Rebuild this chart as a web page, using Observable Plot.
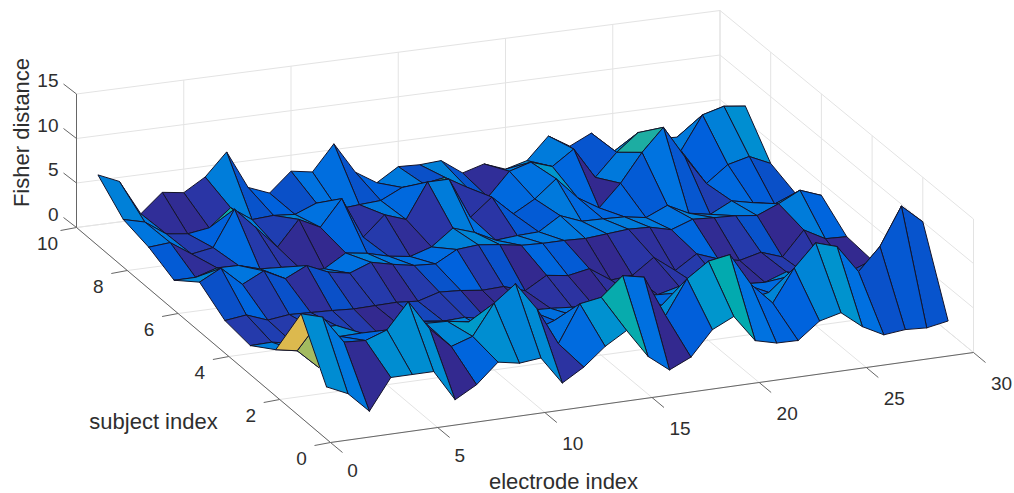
<!DOCTYPE html>
<html>
<head>
<meta charset="utf-8">
<script src="https://cdn.jsdelivr.net/npm/d3@7"></script>
<script src="https://cdn.jsdelivr.net/npm/@observablehq/plot@0.6"></script>
<style>html,body{margin:0;padding:0;background:#fff}svg{display:block}</style>
</head>
<body>
<div id="chart"></div>
<script>
const electrodeTicks = [0, 5, 10, 15, 20, 25, 30];
const subjectTicks = [0, 2, 4, 6, 8, 10];
const fisherTicks = [0, 5, 10, 15];
// surface heights, one row per subject
const s1 = [3.5,2.4,.1,3.55,3.55,3.55,.05,1.4,3.6,3.15,3.4,.25,1.7,3.7,5.15,1.9,.05,1.15,3.9,5.05,2,1.4,1.35,3.2,3.8,1.9,.65,.9,.76,1.2];
const s2 = [9.3,8.6,5.45,5.3,6.15,9,5.6,3.3,4.1,7.5,9.35,6.2,1.95,6.1,6.5,8.6,8.1,3.45,7.25,8.9,9.3,5.6,3.2,6.8,9.3,8.55,5.4,7.9,12.1,10];
const s3 = [2.85,2.4,.2,3.35,3.4,2.5,2.5,3.5,3.4,3,1.5,1,1,1.85,2,2,1,1.5,1.9,3,1.5,1.5,1.2,1.7,3.2,2,1.5,.1,.5,1];
const s4 = [.9,.95,.5,1.8,1.85,.6,.2,.8,1,.7,.8,.3,.4,.6,.5,.3,.2,.3,.5,.4,1,.6,.6,.3,.15,1,.3,.05,.1,1];
const s5 = [1.3,1.6,.7,1,.9,.8,.65,.7,.75,.55,1.25,1.1,.8,.9,.1,1.5,1.15,1.6,0,.2,1.9,.1,1.65,.75,.25,.85,0,2.7,1.4,1.3];
const s6 = [3.2,4.45,2.3,3.5,2.3,3.45,2.4,1.95,2.85,2.3,1.85,1.7,3,3.2,2.9,2.5,2.4,2.4,2.3,2.5,2.7,2.6,2,2.85,2.7,2.6,2.3,3.3,4.5,3.6];
const s7 = [1,1,1.75,1.7,1,.85,.1,.05,1.5,1.15,.5,.15,.9,2.7,1.9,.7,.9,1,2.5,1.55,1.5,1.4,1,2.05,.85,.4,1.6,1.07,.6,1.4];
const s8 = [2.3,2.5,.9,1.3,5.3,2.9,.4,3.2,2,4.9,.25,2.45,1.6,5.5,5.5,.9,2.85,.65,2,3.95,1.5,.05,2.5,5.65,8.15,4.5,1.2,3,3.6,2.5];
const s9 = [3,2.4,.75,.45,.8,2.75,1.1,1.25,1.05,2,1,1.2,1.35,2.5,2.6,3,1.6,.15,2.75,3.45,2.65,4.3,.8,3.3,5.2,1.5,2.55,6.25,6.9,6.6];
const s10 = [5.6,4.55,.6,2.7,2.35,3.8,6.3,2,1.05,3.2,2.8,5.65,2.15,.65,2.15,2.05,2.2,.5,1.2,.3,.95,3.4,1.95,3.1,.65,.5,1.5,1.4,3,3];
const rows = [s1,s2,s3,s4,s5,s6,s7,s8,s9,s10];
// cell colour values where the picture's shade differs from the corner height
const shade4 = [.35,.4,.35,.5,.4,.35,.05,.15,.5,.35,.4,.05,.1,.1,.25,.25,.05,.2,.2,.15,.3,.35,.4,.1,.15,.35,.3,.05,.05];
const shade5 = [.6,1.4,.4,.65,.2,.6,.35,.35,.15,.35,.7,1.3,.35,.65,.05,1.5,1,.1,.05,.3,.2,.2,1.5,.1,.35,.7,.05,2.7,1.4];
const shadeExtra = [[3,2,1.6],[4,2,1.6],[7,2,.1],[8,3,1.8],[9,3,1.8],[5,3,1.6],[19,3,1.6],
  [2,7,.15],[3,7,.35],[5,7,.35],[6,7,.3],[10,7,.7],[11,7,.35],[13,7,.3],[16,7,.3],
  [3,8,.35],[14,8,3.5],[16,8,.3],[17,8,.2],[18,8,1.6],
  [3,9,.15],[4,9,.1],[5,9,.3],[7,9,.7],[9,9,.6],[11,9,1.8],[12,9,.7],[15,9,.6],[17,9,.7]];
const colorDomain = [0,.3,.6,1.2,2,3,4,5,8.6,9.3];
const colorRange = ["#35278a","#2a35a5","#0a50c8","#0060dc","#0072e0","#0080d8","#0098cc","#00aab0","#a3bb60","#dcb94e"];

// view of the 3D box (screen plane)
const front=[330,442], right=[973,352], back=[719.5,143.5], left=[76,227], zUnit=8.9;
function project(e,s,z){
  const u=e/30,v=s/10;
  const bil=i=>front[i]+(right[i]-front[i])*u+(left[i]-front[i])*v+(front[i]-right[i]+back[i]-left[i])*u*v;
  return [bil(0),bil(1)-z*zUnit];
}
const seg=(a,b)=>{const p=project(...a),q=project(...b);return {x1:p[0],y1:p[1],x2:q[0],y2:q[1]};};
const grid=[];
for(const e of electrodeTicks){grid.push(seg([e,0,0],[e,10,0]),seg([e,10,0],[e,10,15]));}
for(const s of subjectTicks){grid.push(seg([0,s,0],[30,s,0]),seg([30,s,0],[30,s,15]));}
for(const z of fisherTicks){grid.push(seg([0,10,z],[30,10,z]),seg([30,10,z],[30,0,z]));}
const axes=[seg([0,10,0],[0,10,15]),seg([0,0,0],[0,10,0]),seg([0,0,0],[30,0,0])];
const off=(p,dx,dy)=>({x1:p[0],y1:p[1],x2:p[0]+dx,y2:p[1]+dy});
const ticks=[
 ...electrodeTicks.map(e=>off(project(e,0,0),12,10)),
 ...subjectTicks.map(s=>off(project(0,s,0),-16,3)),
 ...fisherTicks.map(z=>off(project(0,10,z),-13,-10))];
const eLabels=electrodeTicks.map(e=>{const p=project(e,0,0);return {x:p[0]+(e<10?22:28),y:p[1]+(e<10?28:31),t:String(e)};});
const sLabels=subjectTicks.map(s=>{const p=project(0,s,0);return {x:p[0]-29,y:p[1]+16,t:String(s)};});
const zLabels=fisherTicks.map(z=>{const p=project(0,10,z);return {x:p[0]-18,y:p[1]-13,t:String(z)};});

function shadeOf(e,s){
  const extra=shadeExtra.find(d=>d[0]===e&&d[1]===s);
  if(extra) return extra[2];
  if(s===4) return shade4[e-1];
  if(s===5) return shade5[e-1];
  return rows[s-1][e-1];
}
const cells=[];
for(let s=9;s>=1;s--)for(let e=29;e>=1;e--){
  const id=s*100+e, v=shadeOf(e,s);
  for(const [a,b] of [[e,s],[e+1,s],[e+1,s+1],[e,s+1],[e,s]]){
    const p=project(a,b,rows[b-1][a-1]);
    cells.push({id,v,x:p[0],y:p[1]});
  }
}
const font="'Liberation Sans',Arial,sans-serif", ink="#2e2e2e";
const plot=Plot.plot({
  width:1014,height:493,margin:0,
  style:{background:"#fff",fontFamily:font},
  x:{domain:[0,1014],range:[0,1014],axis:null},
  y:{domain:[0,493],range:[0,493],axis:null},
  color:{type:"linear",domain:colorDomain,range:colorRange,interpolate:"rgb"},
  marks:[
    Plot.link(grid,{x1:"x1",y1:"y1",x2:"x2",y2:"y2",stroke:"#e3e3e3",strokeWidth:1}),
    Plot.link(axes,{x1:"x1",y1:"y1",x2:"x2",y2:"y2",stroke:"#666",strokeWidth:1}),
    Plot.link(ticks,{x1:"x1",y1:"y1",x2:"x2",y2:"y2",stroke:"#666",strokeWidth:1}),
    Plot.line(cells,{x:"x",y:"y",z:"id",fill:"v",stroke:"#14142a",strokeWidth:1,strokeLinejoin:"round",curve:"linear"}),
    Plot.text(eLabels,{x:"x",y:"y",text:"t",fontSize:19,fill:ink}),
    Plot.text(sLabels,{x:"x",y:"y",text:"t",fontSize:19,fill:ink}),
    Plot.text(zLabels,{x:"x",y:"y",text:"t",textAnchor:"end",fontSize:19,fill:ink}),
    Plot.text(["electrode index"],{x:[563],y:[481],fontSize:22,fill:ink}),
    Plot.text(["subject index"],{x:[153],y:[421],fontSize:22,fill:ink}),
    Plot.text(["Fisher distance"],{x:[21],y:[132],rotate:-90,fontSize:22,fill:ink})
  ]
});
document.getElementById("chart").append(plot);
</script>
</body>
</html>
